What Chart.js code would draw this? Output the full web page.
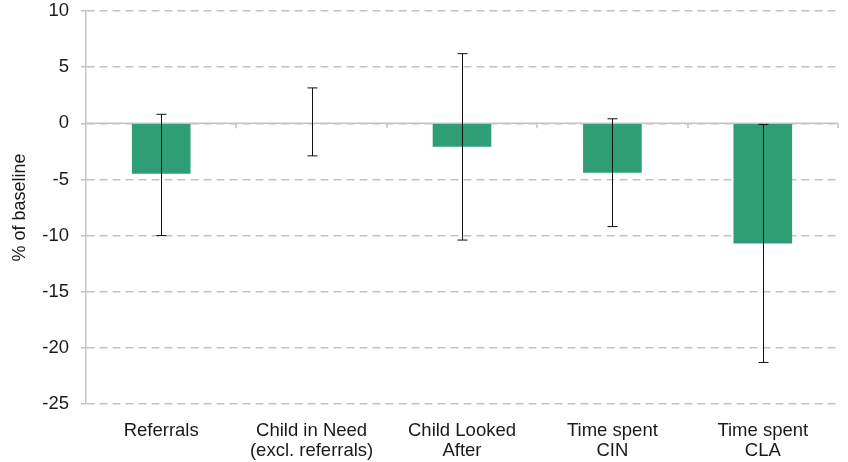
<!DOCTYPE html>
<html>
<head>
<meta charset="utf-8">
<script src="https://cdn.jsdelivr.net/npm/chart.js@4.4.1/dist/chart.umd.min.js"></script>
<style>
  html, body { margin: 0; padding: 0; background: #fff; }
  #wrap { width: 848px; height: 462px; position: relative; }
</style>
</head>
<body>
<div id="wrap"><canvas id="chart"></canvas></div>
<script>
// values (% of baseline)
const categories = [
    ['Referrals'],
    ['Child in Need', '(excl. referrals)'],
    ['Child Looked', 'After'],
    ['Time spent', 'CIN'],
    ['Time spent', 'CLA']
];
const effect = [-4.5, 0, -2.1, -4.4, -10.7];
const ciLow = [-10.0, -2.9, -10.4, -9.2, -21.3];
const ciHigh = [0.8, 3.15, 6.2, 0.4, -0.1];

const gridGrey = '#c3c3c3';

// error bars, plus the solid zero line with its category tick marks
const extras = {
    id: 'extras',
    afterDatasetsDraw: function (chart) {
        const ctx = chart.ctx;
        const x = chart.scales.x;
        const y = chart.scales.y;
        const area = chart.chartArea;
        const y0 = y.getPixelForValue(0);

        ctx.save();
        ctx.strokeStyle = gridGrey;
        ctx.lineWidth = 1.5;
        ctx.beginPath();
        ctx.moveTo(area.left, y0);
        ctx.lineTo(area.right, y0);
        for (let i = 1; i <= categories.length; i++) {
            const px = i < categories.length
                ? Math.round((x.getPixelForValue(i - 1) + x.getPixelForValue(i)) / 2)
                : area.right;
            ctx.moveTo(px, y0);
            ctx.lineTo(px, y0 + 5);
        }
        ctx.stroke();

        ctx.strokeStyle = '#111';
        ctx.lineWidth = 1;
        ctx.beginPath();
        for (let i = 0; i < categories.length; i++) {
            const cx = Math.round(x.getPixelForValue(i)) + 0.5;
            const top = y.getPixelForValue(ciHigh[i]);
            const bot = y.getPixelForValue(ciLow[i]);
            ctx.moveTo(cx, top);
            ctx.lineTo(cx, bot);
            ctx.moveTo(cx - 5, top);
            ctx.lineTo(cx + 5, top);
            ctx.moveTo(cx - 5, bot);
            ctx.lineTo(cx + 5, bot);
        }
        ctx.stroke();
        ctx.restore();
    }
};

Chart.defaults.font.family = '"Liberation Sans", Arial, sans-serif';
Chart.defaults.color = '#1a1a1a';

new Chart(document.getElementById('chart'), {
    type: 'bar',
    data: {
        labels: categories,
        datasets: [{
            data: effect,
            backgroundColor: '#2f9e74',
            borderWidth: 0,
            barPercentage: 0.39,
            categoryPercentage: 1.0
        }]
    },
    options: {
        responsive: true,
        maintainAspectRatio: false,
        animation: false,
        layout: { padding: { top: 11, right: 10, left: 4, bottom: 0 } },
        plugins: {
            legend: { display: false },
            tooltip: { enabled: false }
        },
        scales: {
            x: {
                grid: { display: false },
                border: { display: false },
                ticks: {
                    font: { size: 18.5, lineHeight: 1.08 },
                    padding: 9,
                    maxRotation: 0
                },
                afterFit: function (scale) {
                    scale.height = 58;
                    scale.paddingLeft = 0;
                    scale.paddingRight = 0;
                }
            },
            y: {
                min: -25,
                max: 10,
                ticks: {
                    stepSize: 5,
                    font: { size: 18.5 },
                    padding: 12
                },
                grid: {
                    color: gridGrey,
                    lineWidth: 1.5,
                    tickLength: 5,
                    tickColor: gridGrey,
                    drawTicks: true
                },
                border: {
                    display: true,
                    color: gridGrey,
                    width: 1.5,
                    dash: [8, 5]
                },
                title: {
                    display: true,
                    text: '% of baseline',
                    font: { size: 18 },
                    padding: { top: 5, bottom: 0 }
                },
                afterFit: function (scale) {
                    scale.width = 82;
                    scale.paddingTop = 0;
                    scale.paddingBottom = 0;
                }
            }
        }
    },
    plugins: [extras]
});
</script>
</body>
</html>
